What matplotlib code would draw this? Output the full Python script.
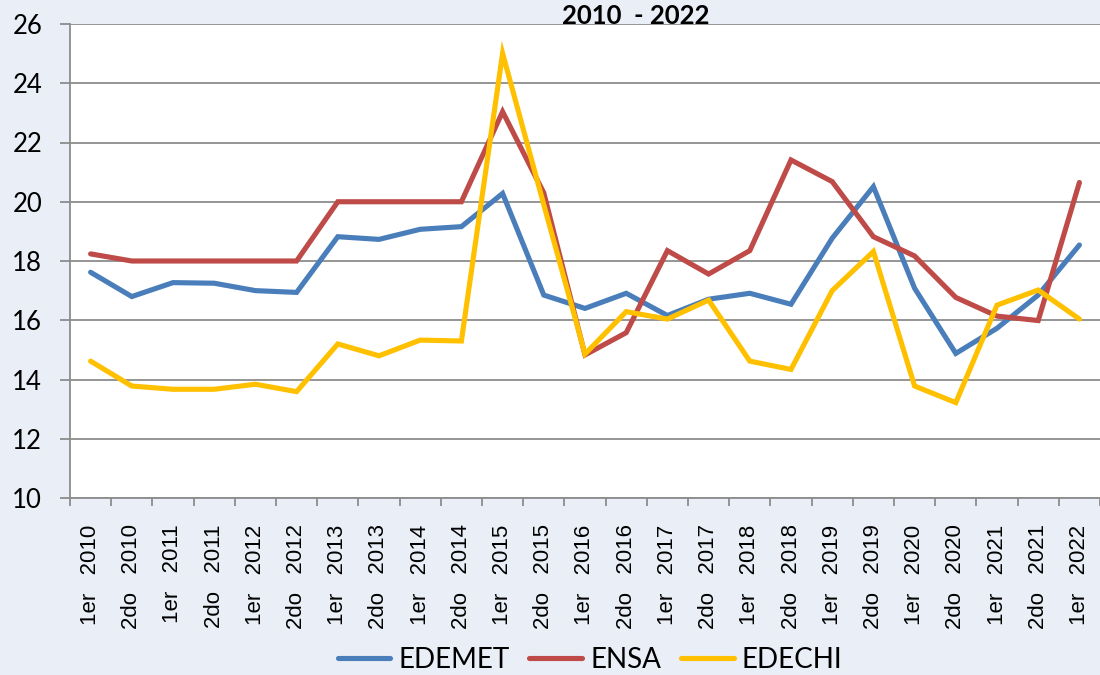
import matplotlib
matplotlib.use("Agg")
import matplotlib.pyplot as plt
from matplotlib.ticker import FixedLocator

categories = ["1er   2010", "2do   2010", "1er   2011", "2do   2011", "1er   2012", "2do   2012",
              "1er   2013", "2do   2013", "1er   2014", "2do   2014", "1er   2015", "2do   2015",
              "1er   2016", "2do   2016", "1er   2017", "2do   2017", "1er   2018", "2do   2018",
              "1er   2019", "2do   2019", "1er   2020", "2do   2020", "1er   2021", "2do   2021",
              "1er   2022"]

edemet = [17.62, 16.80, 17.27, 17.25, 17.00, 16.94, 18.82, 18.73, 19.07, 19.16, 20.28, 16.85,
          16.40, 16.91, 16.16, 16.71, 16.91, 16.54, 18.77, 20.51, 17.08, 14.88, 15.73, 16.85, 18.54]
ensa = [18.24, 18.00, 18.00, 18.00, 18.00, 18.00, 20.00, 20.00, 20.00, 20.00, 23.04, 20.30,
        14.83, 15.58, 18.35, 17.56, 18.35, 21.41, 20.68, 18.82, 18.17, 16.77, 16.14, 15.99, 20.65]
edechi = [14.62, 13.78, 13.67, 13.67, 13.84, 13.59, 15.20, 14.80, 15.33, 15.30, 25.01, 19.90,
          14.86, 16.29, 16.04, 16.68, 14.62, 14.34, 17.00, 18.32, 13.78, 13.22, 16.51, 17.02, 16.04]

series_names = ["EDEMET", "ENSA", "EDECHI"]
colors = ["#4A7EBB", "#BE4B48", "#FFC000"]
title = "2010  - 2022"
yticks = [10, 12, 14, 16, 18, 20, 22, 24, 26]

bg = "#EAEFF7"
grid_c = "#8C8C8C"

fig = plt.figure(figsize=(11, 6.75), dpi=100, facecolor=bg)
ax = fig.add_axes([70 / 1100, 177 / 675, 1030 / 1100, 474 / 675])
ax.set_facecolor("white")

x = list(range(len(categories)))
for vals, name, c in zip([edemet, ensa, edechi], series_names, colors):
    ax.plot(x, vals, color=c, lw=3.7, label=name, solid_capstyle="round", solid_joinstyle="miter")

ax.set_xlim(-0.5, len(categories) - 0.5)
ax.set_ylim(10, 26)
ax.set_yticks(yticks)
ax.yaxis.grid(True, color=grid_c, lw=1.3)
ax.set_axisbelow(True)
for s in ["top", "right"]:
    ax.spines[s].set_visible(False)
for s in ["left", "bottom"]:
    ax.spines[s].set_color(grid_c)
    ax.spines[s].set_linewidth(1.3)

ax.tick_params(axis="y", length=7, width=1.3, color=grid_c, pad=13, labelsize=18.5)
for lbl in ax.get_yticklabels():
    lbl.set_fontfamily("Lato")

ax.set_xticks(x)
ax.set_xticklabels(categories, rotation=90, fontsize=16, family="Liberation Sans", va="top", ha="center")
ax.tick_params(axis="x", which="major", length=0, pad=19)
ax.xaxis.set_minor_locator(FixedLocator([i - 0.5 for i in range(len(categories) + 1)]))
ax.tick_params(axis="x", which="minor", length=6, width=1.3, color=grid_c)

fig.text(636 / 1100, 1 - 16 / 675, title, ha="center", va="center", fontsize=18.5,
         fontweight="bold", family="Lato")

leg = fig.legend(loc="center", bbox_to_anchor=(590 / 1100, 1 - 660 / 675), ncol=3, frameon=False,
                 prop={"family": "Lato", "size": 20}, handlelength=1.9, handletextpad=0.3,
                 columnspacing=0.7)

fig.savefig("out.png", dpi=100, facecolor=bg)
